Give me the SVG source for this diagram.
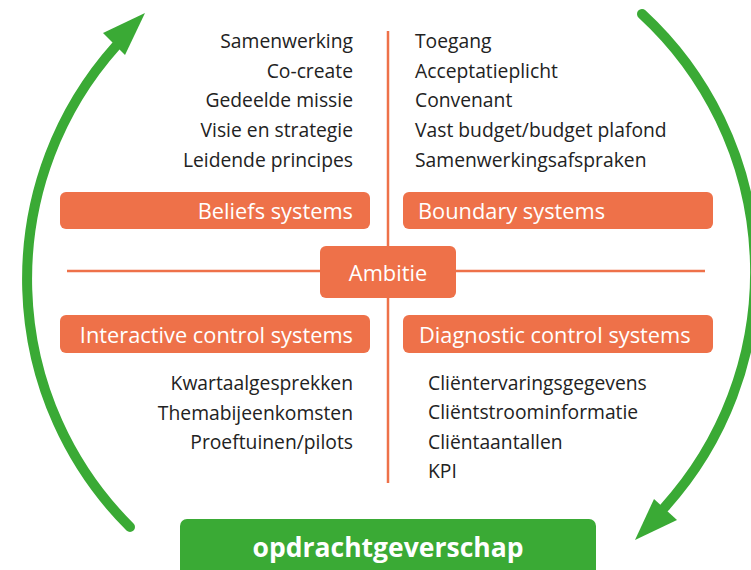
<svg xmlns="http://www.w3.org/2000/svg" width="751" height="570" viewBox="0 0 751 570">
<style>
.t{font-family:"Open Sans","Noto Sans","Liberation Sans",sans-serif;font-size:19.3px;fill:#222222}
.r{text-anchor:end}
.lbl{font-family:"Open Sans","Noto Sans","Liberation Sans",sans-serif;font-size:21.8px;fill:#ffffff}
.box{fill:#ee7149}
.ln{stroke:#ee7149;stroke-width:2.5;fill:none}
.arc{stroke:#3aaa35;stroke-width:10;fill:none;stroke-linecap:round}
.head{fill:#3aaa35}
</style>
<rect width="751" height="570" fill="#ffffff"/>
<g id="connectors">
<line class="ln" x1="388" y1="31" x2="388" y2="483"/>
<line class="ln" x1="67" y1="271" x2="705" y2="271"/>
<path class="arc" d="M 130 527 A 350 350 0 0 1 116 46"/>
<polygon class="head" points="145,13 103,33 125,55"/>
<path class="arc" d="M 642 14 A 351 351 0 0 1 664 508"/>
<polygon class="head" points="635,540 654,499 677,520"/>
</g>
<g id="beliefs-items">
<text class="t r" x="353" y="48">Samenwerking</text>
<text class="t r" x="353" y="77.5">Co-create</text>
<text class="t r" x="353" y="107">Gedeelde missie</text>
<text class="t r" x="353" y="137">Visie en strategie</text>
<text class="t r" x="353" y="166.5">Leidende principes</text>
</g>
<g id="boundary-items">
<text class="t" x="415" y="48">Toegang</text>
<text class="t" x="415" y="77.5">Acceptatieplicht</text>
<text class="t" x="415" y="107">Convenant</text>
<text class="t" x="415" y="137">Vast budget/budget plafond</text>
<text class="t" x="415" y="166.5">Samenwerkingsafspraken</text>
</g>
<g id="beliefs">
<rect class="box" x="60" y="192" width="310" height="37" rx="6"/>
<text class="lbl r" x="353" y="219">Beliefs systems</text>
</g>
<g id="boundary">
<rect class="box" x="403" y="192" width="310" height="37" rx="6"/>
<text class="lbl" x="418" y="219">Boundary systems</text>
</g>
<g id="ambitie">
<rect class="box" x="320" y="246" width="136" height="52" rx="6"/>
<text class="lbl" x="388" y="281" text-anchor="middle">Ambitie</text>
</g>
<g id="interactive">
<rect class="box" x="60" y="315" width="310" height="38" rx="6"/>
<text class="lbl r" x="353" y="343">Interactive control systems</text>
</g>
<g id="diagnostic">
<rect class="box" x="403" y="315" width="310" height="38" rx="6"/>
<text class="lbl" x="419" y="343">Diagnostic control systems</text>
</g>
<g id="interactive-items">
<text class="t r" x="353" y="390">Kwartaalgesprekken</text>
<text class="t r" x="353" y="419.5">Themabijeenkomsten</text>
<text class="t r" x="353" y="449">Proeftuinen/pilots</text>
</g>
<g id="diagnostic-items">
<text class="t" x="428" y="389.5">Cliëntervaringsgegevens</text>
<text class="t" x="428" y="419">Cliëntstroominformatie</text>
<text class="t" x="428" y="449">Cliëntaantallen</text>
<text class="t" x="428" y="478">KPI</text>
</g>
<g id="opdrachtgeverschap">
<rect x="180" y="519" width="416" height="60" rx="7" fill="#3aaa35"/>
<text x="388" y="557" text-anchor="middle" font-family="Open Sans, Noto Sans, Liberation Sans, sans-serif" font-size="26.5" font-weight="bold" fill="#ffffff">opdrachtgeverschap</text>
</g>
</svg>
